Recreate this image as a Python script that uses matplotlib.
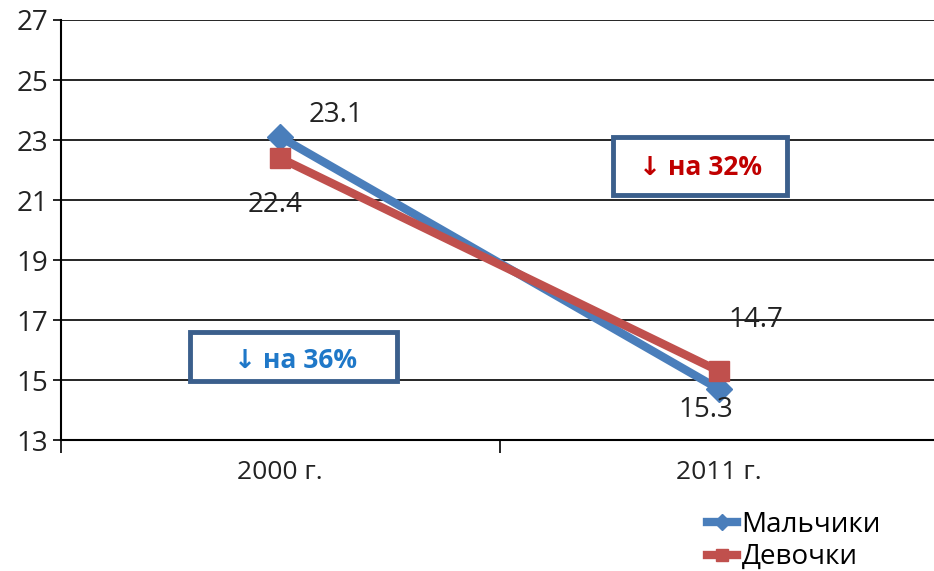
import matplotlib.pyplot as plt
from matplotlib.patches import Rectangle

years = ["2000 г.", "2011 г."]
boys = [23.1, 14.7]
girls = [22.4, 15.3]
series_names = ["Мальчики", "Девочки"]
yticks = [13, 15, 17, 19, 21, 23, 25, 27]

plt.rcParams['font.family'] = ['Open Sans', 'DejaVu Sans']

fig = plt.figure(figsize=(9.34, 5.71), dpi=100)
ax = fig.add_axes([0.065, 0.229, 0.94, 0.736])

x = list(range(len(years)))
ax.plot(x, boys, color="#4a7ebb", lw=6, marker="D", ms=13, label=series_names[0], zorder=3)
ax.plot(x, girls, color="#c0504d", lw=6, marker="s", ms=14, label=series_names[1], zorder=4)

ax.set_xlim(-0.5, 1.5)
ax.set_ylim(13, 27)
ax.set_yticks(yticks)
ax.set_yticklabels([str(v) for v in yticks], fontsize=20, color="#222222")
ax.yaxis.grid(True, color="black", lw=1.2)
ax.set_axisbelow(True)

ax.set_xticks(x)
ax.set_xticklabels(years, fontsize=19, color="#222222")
ax.tick_params(axis="x", length=0, pad=14)
ax.set_xticks([-0.5, 0.5, 1.5], minor=True)
ax.tick_params(axis="x", which="minor", length=9, width=1.2)
ax.tick_params(axis="y", length=6, width=1.2, pad=3)

for s in ["top", "right"]:
    ax.spines[s].set_visible(False)
ax.spines["left"].set_linewidth(1.5)
ax.spines["bottom"].set_linewidth(1.5)

# value labels
lbl = dict(fontsize=20, color="#222222", ha="center", va="center")
ax.text(0.126, 23.83, "23.1", **lbl)
ax.text(-0.011, 20.83, "22.4", **lbl)
ax.text(1.084, 17.0, "14.7", **lbl)
ax.text(0.970, 14.0, "15.3", **lbl)

# callout boxes
for (x0, y0, w, h) in [(-0.205, 14.97, 0.472, 1.63), (0.758, 21.17, 0.397, 1.93)]:
    ax.add_patch(Rectangle((x0, y0), w, h, fc="white", ec="#3b5f8c", lw=3.5, zorder=5))
ax.text(0.034, 15.65, "↓ на 36%", fontsize=19, fontweight="bold", color="#1f78c8",
        ha="center", va="center", zorder=6)
ax.text(0.957, 22.1, "↓ на 32%", fontsize=19, fontweight="bold", color="#c00000",
        ha="center", va="center", zorder=6)

fig.legend(loc="lower left", bbox_to_anchor=(0.745, -0.02), frameon=False,
           fontsize=20, handlelength=1.1, handletextpad=0.15, labelspacing=0.15,
           markerscale=0.6, borderaxespad=0)

plt.savefig("out.png", dpi=100)
